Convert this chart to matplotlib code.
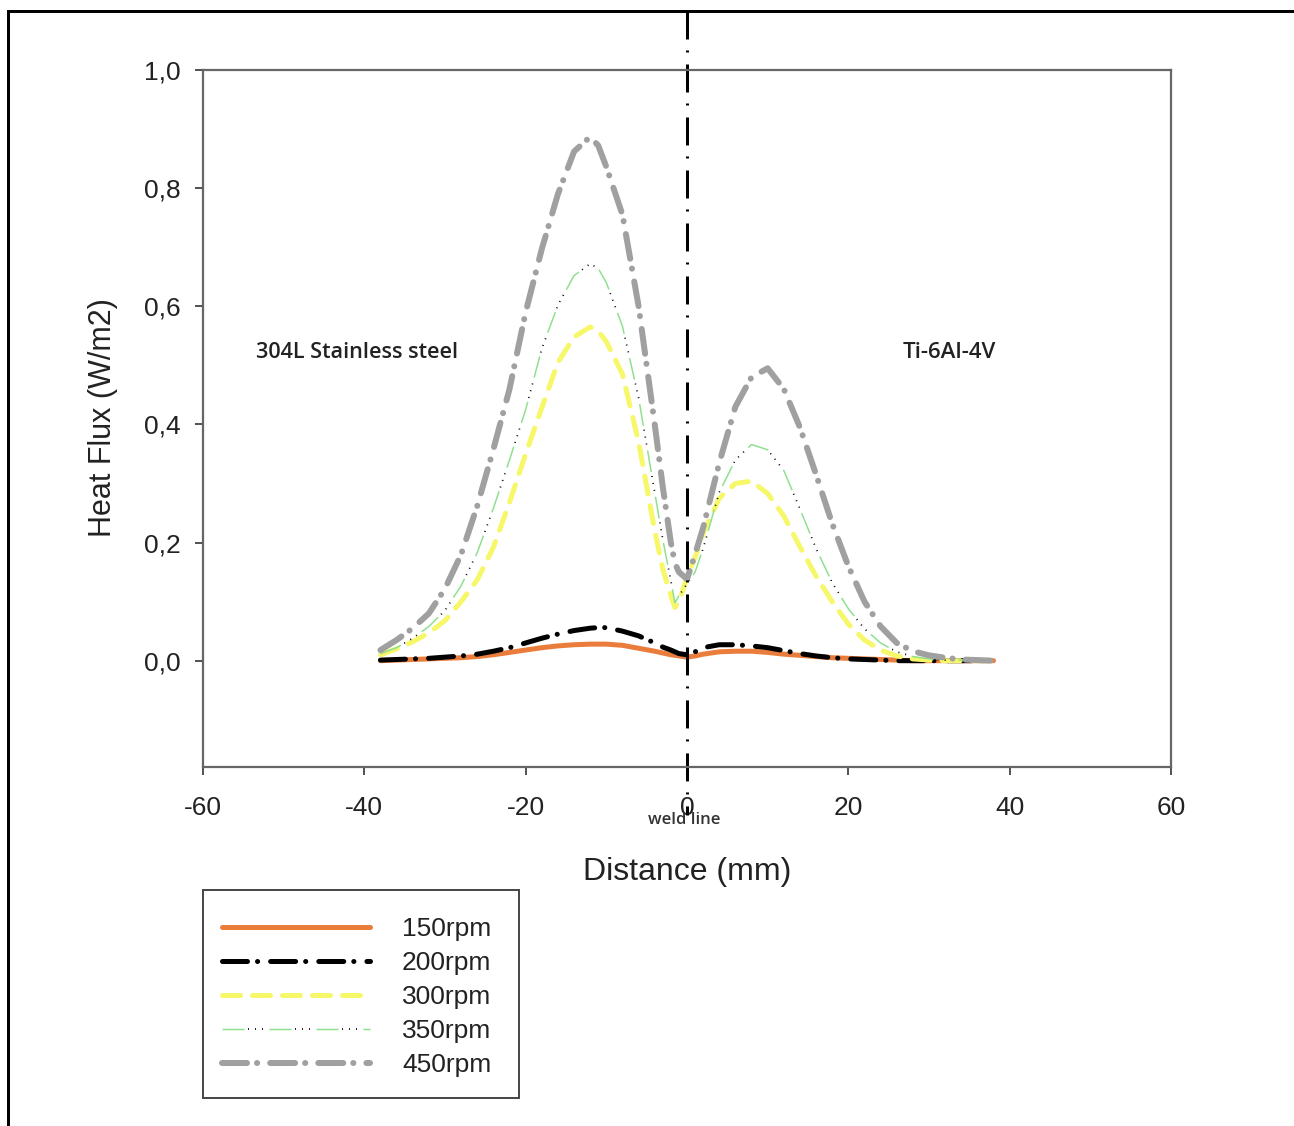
import matplotlib
matplotlib.use("Agg")
import matplotlib.pyplot as plt
from matplotlib.ticker import FuncFormatter, FixedLocator
from matplotlib.legend_handler import HandlerTuple
from matplotlib.lines import Line2D
from matplotlib.patches import Rectangle

plt.rcParams['font.family'] = ['Liberation Sans', 'DejaVu Sans']
plt.rcParams['axes.unicode_minus'] = False
plt.rcParams['lines.scale_dashes'] = False

# ---------------- data ----------------
distance = [-38, -36, -34, -32, -30, -28, -26, -24, -22, -20, -18, -16, -14, -12, -11, -10,
            -8, -6, -4, -3, -2, -1.5, -1, 0, 1, 2, 4, 6, 8, 10, 12, 14, 16, 18, 20,
            22, 24, 26, 28, 30, 32, 34, 36, 38]

rpm150 = [0.000, 0.001, 0.002, 0.003, 0.004, 0.005, 0.007, 0.010, 0.014, 0.018, 0.022, 0.025, 0.027, 0.028, 0.028, 0.028,
          0.026, 0.021, 0.016, 0.013, 0.010, 0.009, 0.008, 0.006, 0.008, 0.011, 0.015, 0.016, 0.016, 0.014, 0.011, 0.009, 0.007, 0.005, 0.004,
          0.003, 0.002, 0.001, 0.000, 0.000, 0.000, 0.000, 0.000, 0.000]

rpm200 = [0.001, 0.002, 0.003, 0.004, 0.006, 0.008, 0.011, 0.016, 0.022, 0.030, 0.038, 0.045, 0.051, 0.055, 0.056, 0.056,
          0.050, 0.042, 0.030, 0.023, 0.018, 0.015, 0.012, 0.010, 0.015, 0.022, 0.027, 0.027, 0.025, 0.022, 0.017, 0.012, 0.008, 0.005, 0.003,
          0.002, 0.001, 0.000, 0.000, 0.000, 0.000, 0.000, 0.000, 0.000]

rpm300 = [0.010, 0.020, 0.032, 0.047, 0.068, 0.100, 0.137, 0.192, 0.268, 0.350, 0.428, 0.505, 0.548, 0.565, 0.558, 0.540,
          0.485, 0.370, 0.220, 0.155, 0.110, 0.090, 0.100, 0.140, 0.175, 0.215, 0.275, 0.300, 0.304, 0.283, 0.245, 0.193, 0.143, 0.100, 0.062,
          0.035, 0.018, 0.008, 0.003, 0.001, 0.000, 0.000, 0.000, 0.000]

rpm350 = [0.012, 0.022, 0.038, 0.058, 0.085, 0.127, 0.183, 0.258, 0.340, 0.425, 0.528, 0.602, 0.652, 0.672, 0.664, 0.640,
          0.566, 0.445, 0.285, 0.205, 0.135, 0.098, 0.110, 0.130, 0.150, 0.190, 0.285, 0.340, 0.366, 0.357, 0.322, 0.257, 0.190, 0.132, 0.088,
          0.054, 0.030, 0.015, 0.007, 0.003, 0.001, 0.001, 0.000, 0.000]

rpm450 = [0.018, 0.035, 0.055, 0.080, 0.122, 0.180, 0.262, 0.358, 0.460, 0.590, 0.697, 0.790, 0.862, 0.887, 0.872, 0.836,
          0.755, 0.600, 0.400, 0.294, 0.200, 0.165, 0.150, 0.138, 0.180, 0.225, 0.335, 0.430, 0.480, 0.495, 0.460, 0.395, 0.315, 0.232, 0.160,
          0.100, 0.058, 0.030, 0.016, 0.009, 0.005, 0.002, 0.001, 0.000]

series_labels = ["150rpm", "200rpm", "300rpm", "350rpm", "450rpm"]
x_ticks = [-60, -40, -20, 0, 20, 40, 60]
y_ticks = [0.0, 0.2, 0.4, 0.6, 0.8, 1.0]

# ---------------- figure ----------------
W, H = 1294, 1126
fig = plt.figure(figsize=(W / 100, H / 100), dpi=100)

def fx(px):
    return px / W

def fy(py):
    return 1 - py / H

ax = fig.add_axes([fx(203), fy(767), fx(1171) - fx(203), fy(70) - fy(767)])

PX = 1 / 1.389  # pixels -> points

l150, = ax.plot(distance, rpm150, color='#EB7D3C', lw=5 * PX, solid_capstyle='round', label=series_labels[0])
l200, = ax.plot(distance, rpm200, color='black', lw=5 * PX, dash_capstyle='round',
                linestyle=(0, (25 * PX, 10 * PX, 0.1, 13 * PX)), label=series_labels[1])
l300, = ax.plot(distance, rpm300, color='#F7F76A', lw=5 * PX, dash_capstyle='round',
                linestyle=(0, (18 * PX, 12 * PX)), label=series_labels[2])
l350g, = ax.plot(distance, rpm350, color='#8EE08E', lw=1.5 * PX,
                 linestyle=(0, (22 * PX, 25 * PX)))
l350k, = ax.plot(distance, rpm350, color='black', lw=1.7 * PX,
                 linestyle=(21 * PX, (1 * PX, 6 * PX, 1 * PX, 6 * PX, 1 * PX, 32 * PX)))
l450, = ax.plot(distance, rpm450, color='#A0A0A0', lw=6 * PX, dash_capstyle='round',
                linestyle=(0, (25 * PX, 10 * PX, 0.1, 13 * PX)), label=series_labels[4])

ax.set_xlim(-60, 60)
ax.set_ylim(-0.18, 1.0)
ax.xaxis.set_major_locator(FixedLocator(x_ticks))
ax.yaxis.set_major_locator(FixedLocator(y_ticks))
ax.xaxis.set_major_formatter(FuncFormatter(lambda v, p: f"{int(round(v))}"))
ax.yaxis.set_major_formatter(FuncFormatter(lambda v, p: f"{v:.1f}".replace('.', ',')))
ax.tick_params(direction='out', length=8 * PX, width=1.2, colors='#333333', labelsize=19, pad=10,
               labelcolor='#222222', top=False, right=False)
ax.tick_params(axis='x', pad=15)
for s in ax.spines.values():
    s.set_color('#666666')
    s.set_linewidth(1.6)

# weld line (dash-dot vertical)
weld = Line2D([0, 0], [(767 - 11) / 697, (767 - 815) / 697], transform=ax.get_xaxis_transform(),
              color='black', lw=3 * PX, clip_on=False,
              linestyle=(0, (28 * PX, 11 * PX, 2 * PX, 12 * PX)))
ax.add_line(weld)

# labels
fig.text(fx(687), fy(872), "Distance (mm)", fontsize=23, ha='center', va='center', color='#222222')
fig.text(fx(103), fy(418), "Heat Flux (W/m2)", fontsize=22, ha='center', va='center', rotation=90, color='#222222')
fig.text(fx(684), fy(820), "weld line", fontsize=12, ha='center', va='center', color='#333333',
         family=['Open Sans', 'DejaVu Sans'], weight='semibold')
fig.text(fx(256), fy(353), "304L Stainless steel", fontsize=15.6, ha='left', va='center', color='#222222',
         family=['Open Sans', 'DejaVu Sans'], weight='semibold')
fig.text(fx(903), fy(353), "Ti-6Al-4V", fontsize=16, ha='left', va='center', color='#222222',
         family=['Open Sans', 'DejaVu Sans'], weight='semibold')

# frame lines of the figure
fig.add_artist(Line2D([fx(8), 1.0], [fy(11), fy(11)], transform=fig.transFigure, color='black', lw=3 * PX))
fig.add_artist(Line2D([fx(8), fx(8)], [fy(11), 0.0], transform=fig.transFigure, color='black', lw=3 * PX))

# legend
fig.add_artist(Rectangle((fx(203), fy(1098)), fx(519) - fx(203), fy(890) - fy(1098), transform=fig.transFigure,
                         fill=False, edgecolor='#444444', lw=1.4))
fs = 19
fpx = fs / PX
leg = fig.legend([l150, l200, l300, (l350g, l350k), l450], series_labels,
                 handler_map={tuple: HandlerTuple(ndivide=1)},
                 loc='upper left', bbox_to_anchor=(fx(222), fy(917)), frameon=False, fontsize=fs,
                 borderpad=0, borderaxespad=0, handlelength=148 / fpx, handletextpad=32 / fpx,
                 labelspacing=0.38)
for t in leg.get_texts():
    t.set_color('#222222')

fig.savefig("out.png", dpi=100)
